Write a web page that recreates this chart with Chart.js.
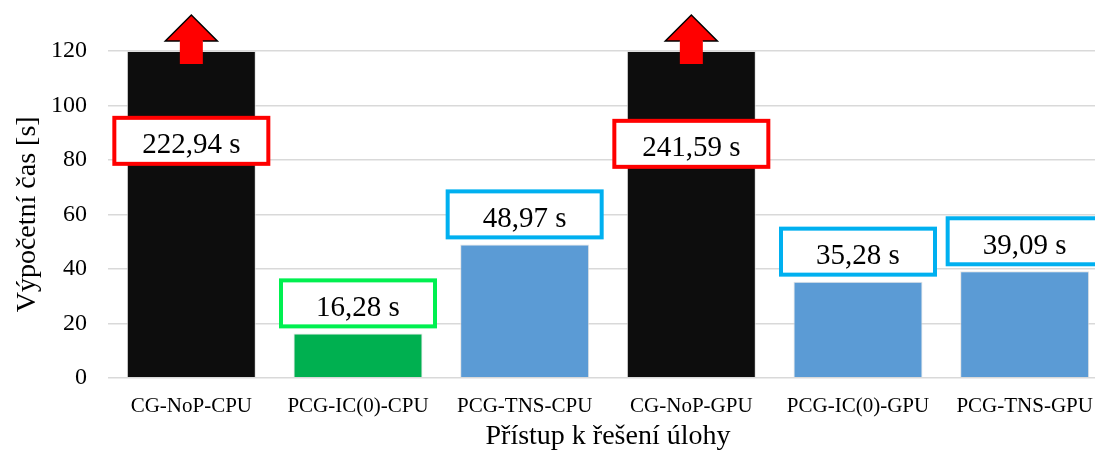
<!DOCTYPE html>
<html>
<head>
<meta charset="utf-8">
<script src="https://cdn.jsdelivr.net/npm/chart.js@4/dist/chart.umd.min.js"></script>
<style>
  html, body { margin: 0; padding: 0; background: #fff; overflow: hidden; }
  #wrap { position: absolute; left: 0; top: 0; width: 1110px; height: 455px; }
</style>
</head>
<body>
<div id="wrap"><canvas id="chart"></canvas></div>
<script>
const categories = ["CG-NoP-CPU", "PCG-IC(0)-CPU", "PCG-TNS-CPU", "CG-NoP-GPU", "PCG-IC(0)-GPU", "PCG-TNS-GPU"];
const times = [222.94, 16.28, 48.97, 241.59, 35.28, 39.09];
const barColors = ["#0d0d0d", "#00b050", "#5b9bd5", "#0d0d0d", "#5b9bd5", "#5b9bd5"];
const boxColors = ["#ff0000", "#00f050", "#00b0f0", "#ff0000", "#00b0f0", "#00b0f0"];
const yTicks = [0, 20, 40, 60, 80, 100, 120];
const yMax = 120;

const serif = "'Liberation Serif', 'Times New Roman', serif";

// bars taller than the axis are cut at yMax and get an arrow + label inside
const shown = times.map(v => Math.min(v, yMax));

const fmt = v => v.toFixed(2).replace(".", ",") + " s";

const labelPlugin = {
  id: "boxes",
  afterDatasetsDraw(chart) {
    const ctx = chart.ctx;
    const y = chart.scales.y;
    const top = chart.chartArea.top;
    const meta = chart.getDatasetMeta(0);
    ctx.save();
    meta.data.forEach((bar, i) => {
      const cx = bar.x;
      const cut = times[i] > yMax;
      if (cut) {
        // arrow
        ctx.fillStyle = "#ff0000";
        ctx.fillRect(cx - 11.5, top - 11, 23, 24);
        ctx.beginPath();
        ctx.moveTo(cx, top - 36);
        ctx.lineTo(cx + 26, top - 10);
        ctx.lineTo(cx - 26, top - 10);
        ctx.closePath();
        ctx.fill();
        ctx.strokeStyle = "#000";
        ctx.lineWidth = 1.5;
        ctx.beginPath();
        ctx.moveTo(cx - 11.5, top - 10);
        ctx.lineTo(cx - 26, top - 10);
        ctx.lineTo(cx, top - 36);
        ctx.lineTo(cx + 26, top - 10);
        ctx.lineTo(cx + 11.5, top - 10);
        ctx.stroke();
      }
      const w = 154, h = 46;
      let by;
      if (cut) by = y.getPixelForValue(87) - h / 2 + (i === 3 ? 3 : 0);
      else by = bar.y - 7 - h;
      ctx.fillStyle = "#fff";
      ctx.fillRect(cx - w / 2, by, w, h);
      ctx.strokeStyle = boxColors[i];
      ctx.lineWidth = 4;
      ctx.strokeRect(cx - w / 2, by, w, h);
      ctx.fillStyle = "#000";
      ctx.font = "29px " + serif;
      ctx.textAlign = "center";
      ctx.textBaseline = "alphabetic";
      ctx.fillText(fmt(times[i]), cx, by + h / 2 + 12.5);
    });
    ctx.restore();
  }
};

new Chart(document.getElementById("chart"), {
  type: "bar",
  data: {
    labels: categories,
    datasets: [{
      data: shown,
      backgroundColor: barColors,
      borderColor: "rgba(220,220,220,0.8)",
      borderWidth: 1,
      barPercentage: 0.774,
      categoryPercentage: 1
    }]
  },
  options: {
    responsive: true,
    maintainAspectRatio: false,
    animation: false,
    layout: { padding: { top: 51, right: 2, left: 0, bottom: 0 } },
    plugins: { legend: { display: false }, tooltip: { enabled: false } },
    scales: {
      x: {
        grid: { display: false },
        border: { display: false },
        ticks: { color: "#000", font: { family: serif, size: 21 }, padding: 8, maxRotation: 0, autoSkip: false },
        title: { display: true, text: "Přístup k řešení úlohy", color: "#000", font: { family: serif, size: 28 }, padding: { top: 0, bottom: 2 } },
        afterFit(s) { s.height = 77.3; }
      },
      y: {
        min: 0,
        max: yMax,
        afterBuildTicks(s) { s.ticks = yTicks.map(v => ({ value: v })); },
        grid: { color: "#d9d9d9", lineWidth: 1.5, drawTicks: false },
        border: { display: false },
        ticks: { color: "#000", font: { family: serif, size: 24 }, padding: 21 },
        title: { display: true, text: "Výpočetní čas [s]", color: "#000", font: { family: serif, size: 28 }, padding: { top: 11, bottom: 0 } },
        afterFit(s) { s.width = 108; }
      }
    }
  },
  plugins: [labelPlugin]
});
</script>
</body>
</html>
